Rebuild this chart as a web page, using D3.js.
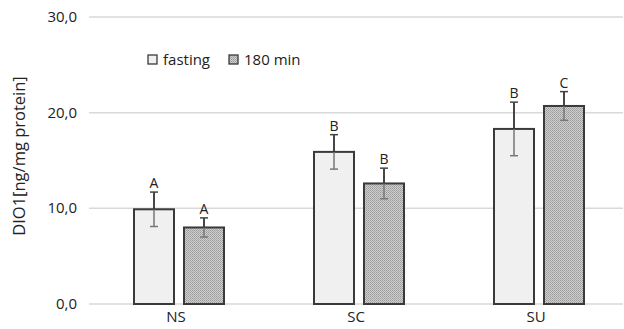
<!DOCTYPE html>
<html>
<head>
<meta charset="utf-8">
<script src="https://cdn.jsdelivr.net/npm/d3@7"></script>
<style>
  body { margin: 0; background: #fff; }
  text { font-family: "Open Sans", sans-serif; fill: #222; }
</style>
</head>
<body>
<div id="chart"></div>
<script>
// data
const groups = ["NS", "SC", "SU"];
const seriesNames = ["fasting", "180 min"];
const fastingMean = [9.9, 15.9, 18.3];
const fastingErr = [1.8, 1.8, 2.8];
const lateMean = [8.0, 12.6, 20.7];
const lateErr = [1.0, 1.6, 1.5];
const fastingLetters = ["A", "B", "B"];
const lateLetters = ["A", "B", "C"];
const yTicks = [0, 10, 20, 30];

const W = 624, H = 329;
const margin = {top: 17, right: 1, bottom: 25, left: 89};

const svg = d3.select("#chart").append("svg")
  .attr("width", W).attr("height", H);

const defs = svg.append("defs");
const pat = defs.append("pattern")
  .attr("id", "dots").attr("patternUnits", "userSpaceOnUse")
  .attr("width", 2).attr("height", 2);
pat.append("rect").attr("width", 2).attr("height", 2).attr("fill", "#cfcfcf");
pat.append("rect").attr("width", 1).attr("height", 1).attr("fill", "#9a9a9a");
pat.append("rect").attr("x", 1).attr("y", 1).attr("width", 1).attr("height", 1).attr("fill", "#a8a8a8");

const x = d3.scaleBand().domain(groups)
  .range([margin.left, W - margin.right + 6]);
const x1 = d3.scaleBand().domain(seriesNames)
  .range([-45, 45]).paddingInner(0.2);
const y = d3.scaleLinear().domain([0, 30])
  .range([H - margin.bottom, margin.top]);

// gridlines
svg.append("g").selectAll("line").data(yTicks).join("line")
  .attr("x1", margin.left).attr("x2", W - margin.right)
  .attr("y1", d => y(d)).attr("y2", d => y(d))
  .attr("stroke", "#d9d9d9").attr("stroke-width", 1.5);

// y tick labels
const fmt = d => d3.format(".1f")(d).replace(".", ",");
svg.append("g").selectAll("text").data(yTicks).join("text")
  .attr("x", 77).attr("y", d => y(d) + 5)
  .attr("text-anchor", "end").attr("font-size", 15)
  .text(fmt);

// y title
svg.append("text")
  .attr("transform", `translate(25,${156}) rotate(-90)`)
  .attr("text-anchor", "middle").attr("font-size", 16.5)
  .text("DIO1[ng/mg protein]");

const rows = [];
groups.forEach((g, i) => {
  rows.push({g, s: seriesNames[0], v: fastingMean[i], e: fastingErr[i], l: fastingLetters[i]});
  rows.push({g, s: seriesNames[1], v: lateMean[i], e: lateErr[i], l: lateLetters[i]});
});
const cx = d => x(d.g) + x.bandwidth() / 2 + x1(d.s);
const mid = d => cx(d) + x1.bandwidth() / 2;

// bars
svg.append("g").selectAll("rect").data(rows).join("rect")
  .attr("x", cx).attr("width", x1.bandwidth())
  .attr("y", d => y(d.v)).attr("height", d => y(0) - y(d.v))
  .attr("fill", d => d.s === "fasting" ? "#f0f0f0" : "url(#dots)")
  .attr("stroke", "#3a3a3a").attr("stroke-width", 2);

// error bars
const eb = svg.append("g");
eb.selectAll(".up").data(rows).join("line")
  .attr("x1", mid).attr("x2", mid)
  .attr("y1", d => y(d.v)).attr("y2", d => y(d.v + d.e))
  .attr("stroke", "#333").attr("stroke-width", 1.8);
eb.selectAll(".down").data(rows).join("line")
  .attr("x1", mid).attr("x2", mid)
  .attr("y1", d => y(d.v)).attr("y2", d => y(d.v - d.e))
  .attr("stroke", "#777").attr("stroke-width", 1.5);
eb.selectAll(".capT").data(rows).join("line")
  .attr("x1", d => mid(d) - 4).attr("x2", d => mid(d) + 4)
  .attr("y1", d => y(d.v + d.e)).attr("y2", d => y(d.v + d.e))
  .attr("stroke", "#444").attr("stroke-width", 1.5);
eb.selectAll(".capB").data(rows).join("line")
  .attr("x1", d => mid(d) - 4).attr("x2", d => mid(d) + 4)
  .attr("y1", d => y(d.v - d.e)).attr("y2", d => y(d.v - d.e))
  .attr("stroke", "#777").attr("stroke-width", 1.5);

// significance letters
svg.append("g").selectAll("text").data(rows).join("text")
  .attr("x", mid).attr("y", d => y(d.v + d.e) - 4)
  .attr("text-anchor", "middle").attr("font-size", 14)
  .text(d => d.l);

// category labels
svg.append("g").selectAll("text").data(groups).join("text")
  .attr("x", d => x(d) + x.bandwidth() / 2 - 3).attr("y", 322)
  .attr("text-anchor", "middle").attr("font-size", 15)
  .text(d => d);

// legend
const legX = [148, 229];
const leg = svg.append("g").selectAll("g").data(seriesNames).join("g")
  .attr("transform", (d, i) => `translate(${legX[i]},55)`);
leg.append("rect").attr("width", 9).attr("height", 9)
  .attr("fill", (d, i) => i === 0 ? "#f0f0f0" : "url(#dots)")
  .attr("stroke", "#3a3a3a").attr("stroke-width", 1.3);
leg.append("text").attr("x", 15).attr("y", 10)
  .attr("font-size", 15).text(d => d);
</script>
</body>
</html>
